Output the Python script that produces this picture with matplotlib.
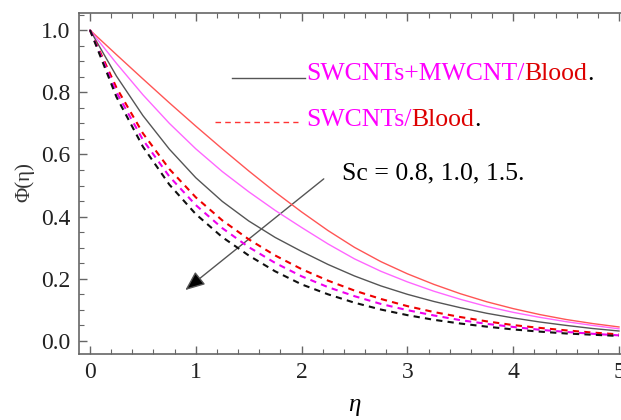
import matplotlib
matplotlib.use("Agg")
import matplotlib.pyplot as plt
from matplotlib.ticker import MultipleLocator
from matplotlib.patches import FancyArrowPatch
from matplotlib.lines import Line2D

eta = [0, 0.25, 0.5, 0.75, 1, 1.25, 1.5, 1.75, 2, 2.25, 2.5, 2.75, 3,
       3.25, 3.5, 3.75, 4, 4.25, 4.5, 4.75, 5]

hyb_sc08 = [1, 0.921, 0.843, 0.766, 0.691, 0.618, 0.547, 0.479, 0.415, 0.355, 0.301,
            0.255, 0.216, 0.182, 0.152, 0.126, 0.104, 0.085, 0.069, 0.056, 0.045]
hyb_sc10 = [1, 0.893, 0.792, 0.700, 0.618, 0.545, 0.480, 0.420, 0.365, 0.312, 0.264,
            0.224, 0.190, 0.160, 0.134, 0.111, 0.092, 0.076, 0.062, 0.050, 0.039]
hyb_sc15 = [1, 0.852, 0.725, 0.617, 0.525, 0.449, 0.386, 0.333, 0.288, 0.246, 0.209,
            0.177, 0.150, 0.127, 0.107, 0.089, 0.074, 0.061, 0.050, 0.040, 0.032]

sw_sc08 = [1, 0.815, 0.668, 0.553, 0.462, 0.388, 0.327, 0.275, 0.231, 0.194, 0.162,
           0.135, 0.112, 0.093, 0.077, 0.063, 0.051, 0.042, 0.034, 0.027, 0.021]
sw_sc10 = [1, 0.800, 0.647, 0.529, 0.437, 0.363, 0.302, 0.251, 0.208, 0.173, 0.144,
           0.119, 0.099, 0.082, 0.067, 0.055, 0.045, 0.036, 0.029, 0.023, 0.018]
sw_sc15 = [1, 0.785, 0.625, 0.503, 0.408, 0.334, 0.275, 0.224, 0.182, 0.150, 0.123,
           0.101, 0.083, 0.068, 0.056, 0.046, 0.037, 0.030, 0.024, 0.020, 0.016]

xticks = [0, 1, 2, 3, 4, 5]
yticks = [0.0, 0.2, 0.4, 0.6, 0.8, 1.0]

W, H = 621, 420
fig = plt.figure(figsize=(W / 100, H / 100), dpi=100)
ax = fig.add_axes([79 / W, (H - 354) / H, (630 - 79) / W, (354 - 13) / H])

serif = ["Liberation Serif", "DejaVu Serif"]

ax.plot(eta, hyb_sc08, color="#ff5555", lw=1.0)
ax.plot(eta, hyb_sc10, color="#ff66ff", lw=1.0)
ax.plot(eta, hyb_sc15, color="#555555", lw=1.0)
ax.plot(eta, sw_sc08, color="#ee0000", lw=1.5, dashes=(3, 2.5))
ax.plot(eta, sw_sc10, color="#ee00ee", lw=1.5, dashes=(3, 2.5))
ax.plot(eta, sw_sc15, color="#111111", lw=1.5, dashes=(3, 2.5))

ax.set_xlim(-0.104, 5.104)
ax.set_ylim(-0.042, 1.055)
ax.set_xticks(xticks)
ax.set_yticks(yticks)
ax.set_xticklabels([str(t) for t in xticks], family=serif)
ax.set_yticklabels([f"{t:.1f}" for t in yticks], family=serif)
ax.xaxis.set_minor_locator(MultipleLocator(0.2))
ax.yaxis.set_minor_locator(MultipleLocator(0.05))
ax.tick_params(which="both", direction="in", top=True, right=True, color="#666666",
               labelsize=17, pad=6, labelcolor="#222222")
ax.tick_params(which="major", length=6, width=1)
ax.tick_params(which="minor", length=3.5, width=0.8)
for s in ax.spines.values():
    s.set_color("#666666")
    s.set_linewidth(1.2)

ax.set_xlabel("η", family=serif, style="italic", fontsize=18, labelpad=8)
fig.text(25 / W, 1 - 182 / H, "Φ(η)", rotation=90, family=serif, fontsize=15,
         ha="center", va="center", color="#333333")

# arrow
arr = FancyArrowPatch((2.23, 0.527), (0.88, 0.158),
                      arrowstyle="-|>,head_length=12,head_width=5",
                      mutation_scale=1, edgecolor="#555555", facecolor="black", lw=1.0)
ax.add_patch(arr)

# legend entries
fig.add_artist(Line2D([232 / W, 305 / W], [1 - 78 / H, 1 - 78 / H], color="#555555", lw=1.0))
fig.add_artist(Line2D([215 / W, 298 / W], [1 - 122 / H, 1 - 122 / H], color="#ff3333", lw=1.0,
                      dashes=(4, 3)))


def multicolor(x, y, parts, size):
    fig.canvas.draw()
    r = fig.canvas.get_renderer()
    cur = x
    for txt, col in parts:
        t = fig.text(cur / W, 1 - y / H, txt, color=col, family=serif, fontsize=size,
                     ha="left", va="center")
        bb = t.get_window_extent(renderer=r)
        cur += bb.width


multicolor(306, 74, [("SWCNTs+MWCNT/", "#ff00ff"), ("Blood", "#dd0000"), (".", "black")], 18.5)
multicolor(306, 120, [("SWCNTs/", "#ff00ff"), ("Blood", "#dd0000"), (".", "black")], 18.5)
fig.text(342 / W, 1 - 173 / H, "Sc = 0.8, 1.0, 1.5.", color="black", family=serif,
         fontsize=18.5, ha="left", va="center")

fig.savefig("out.png", dpi=100)
